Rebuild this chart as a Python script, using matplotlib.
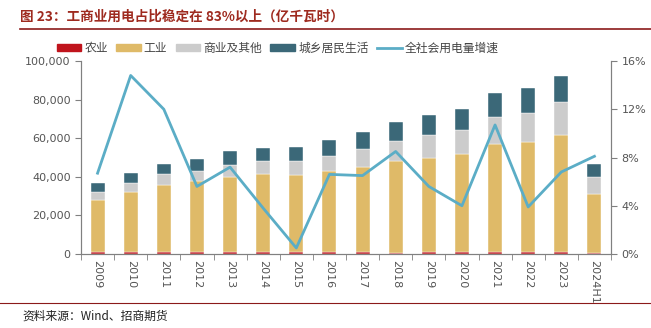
import numpy as np
import matplotlib
matplotlib.use("Agg")
import matplotlib.pyplot as plt
from matplotlib.patches import Patch
from matplotlib.lines import Line2D
from matplotlib.ticker import FuncFormatter, MultipleLocator

plt.rcParams["font.family"] = ["Noto Sans CJK SC", "DejaVu Sans"]

# data (亿千瓦时)
years = ["2009", "2010", "2011", "2012", "2013", "2014", "2015", "2016",
         "2017", "2018", "2019", "2020", "2021", "2022", "2023", "2024H1"]
agri = [940, 976, 1013, 1013, 1014, 994, 1040, 1075,
        1155, 728, 780, 859, 1023, 1146, 1278, 587]
industry = [26900, 31300, 34900, 36600, 39100, 40600, 39800, 41900,
            44100, 47300, 49100, 51100, 56200, 56900, 60500, 30700]
commerce = [4200, 4300, 5300, 5400, 6000, 6400, 7200, 7900,
            8900, 10500, 11900, 12100, 13900, 14900, 16800, 8400]
resident = [4600, 5200, 5600, 6400, 7100, 7100, 7300, 8000,
            8800, 9900, 10400, 10900, 12100, 13300, 13600, 6800]
growth = [6.7, 14.8, 12.0, 5.6, 7.2, 3.8, 0.5, 6.6,
          6.5, 8.5, 5.6, 4.0, 10.7, 3.9, 6.8, 8.1]

c_agri = "#C0141C"
c_ind = "#DFBA68"
c_com = "#CCCCCC"
c_res = "#3B6878"
c_line = "#5BADC6"
grey = "#808080"
title_red = "#9E2A1F"

fig = plt.figure(figsize=(6.51, 3.28), dpi=100)
ax = fig.add_axes([81 / 651, 1 - 254 / 328, 530 / 651, 193 / 328])

x = np.arange(len(years))
w = 0.42
b1 = np.array(agri, dtype=float)
b2 = b1 + np.array(industry)
b3 = b2 + np.array(commerce)
ax.bar(x, agri, w, color=c_agri, edgecolor="white", linewidth=0.3, zorder=2)
ax.bar(x, industry, w, bottom=b1, color=c_ind, edgecolor="white", linewidth=0.3, zorder=2)
ax.bar(x, commerce, w, bottom=b2, color=c_com, edgecolor="white", linewidth=0.3, zorder=2)
ax.bar(x, resident, w, bottom=b3, color=c_res, edgecolor="white", linewidth=0.3, zorder=2)

ax.set_xlim(-0.5, len(years) - 0.5)
ax.set_ylim(0, 100000)
ax.yaxis.set_major_locator(MultipleLocator(20000))
ax.yaxis.set_major_formatter(FuncFormatter(lambda v, p: f"{int(v):,}"))
ax.set_xticks(x)
ax.set_xticklabels(years, rotation=-90, fontsize=8, color="#555555", family="DejaVu Sans")
ax.tick_params(axis="x", which="major", length=0, pad=4)
ax.set_xticks(np.arange(-0.5, len(years), 1), minor=True)
ax.tick_params(axis="x", which="minor", length=4, color=grey, direction="out")
ax.tick_params(axis="y", length=4, color=grey, labelsize=8, labelcolor="#555555")
for lab in ax.get_yticklabels():
    lab.set_family("DejaVu Sans")

for s in ["left", "bottom", "right"]:
    ax.spines[s].set_color(grey)
    ax.spines[s].set_linewidth(0.8)
ax.spines["top"].set_visible(False)

ax2 = ax.twinx()
ax2.plot(x, growth, color=c_line, linewidth=2, zorder=3)
ax2.set_ylim(0, 16)
ax2.yaxis.set_major_locator(MultipleLocator(4))
ax2.yaxis.set_major_formatter(FuncFormatter(lambda v, p: f"{int(v)}%"))
ax2.tick_params(axis="y", length=4, color=grey, labelsize=8, labelcolor="#555555")
for lab in ax2.get_yticklabels():
    lab.set_family("DejaVu Sans")
for s in ["left", "bottom", "right"]:
    ax2.spines[s].set_color(grey)
    ax2.spines[s].set_linewidth(0.8)
ax2.spines["top"].set_visible(False)

handles = [
    Patch(color=c_agri, label="农业"),
    Patch(color=c_ind, label="工业"),
    Patch(color=c_com, label="商业及其他"),
    Patch(color=c_res, label="城乡居民生活"),
    Line2D([0], [0], color=c_line, linewidth=2, label="全社会用电量增速"),
]
fig.legend(handles=handles, loc="center left", bbox_to_anchor=(46 / 651, 1 - 48 / 328),
           ncol=5, frameon=False, fontsize=8.5, handlelength=2.1, handleheight=0.6,
           columnspacing=0.7, handletextpad=0.25, labelcolor="#444444")

# title, rules and source
fig.text(20 / 651, 1 - 17 / 328, "图 23：工商业用电占比稳定在 83%以上（亿千瓦时）",
         fontsize=9.8, fontweight="bold", color=title_red, va="center", ha="left")
fig.add_artist(Line2D([20 / 651, 1], [1 - 29 / 328, 1 - 29 / 328], color="#8B1A1A", linewidth=1.2))
fig.add_artist(Line2D([0, 1], [1 - 303 / 328, 1 - 303 / 328], color="#8B1A1A", linewidth=0.8))
fig.text(22 / 651, 1 - 316 / 328, "资料来源：Wind、招商期货", fontsize=8.5, color="#222222",
         va="center", ha="left")

fig.savefig("out.png", dpi=100)
